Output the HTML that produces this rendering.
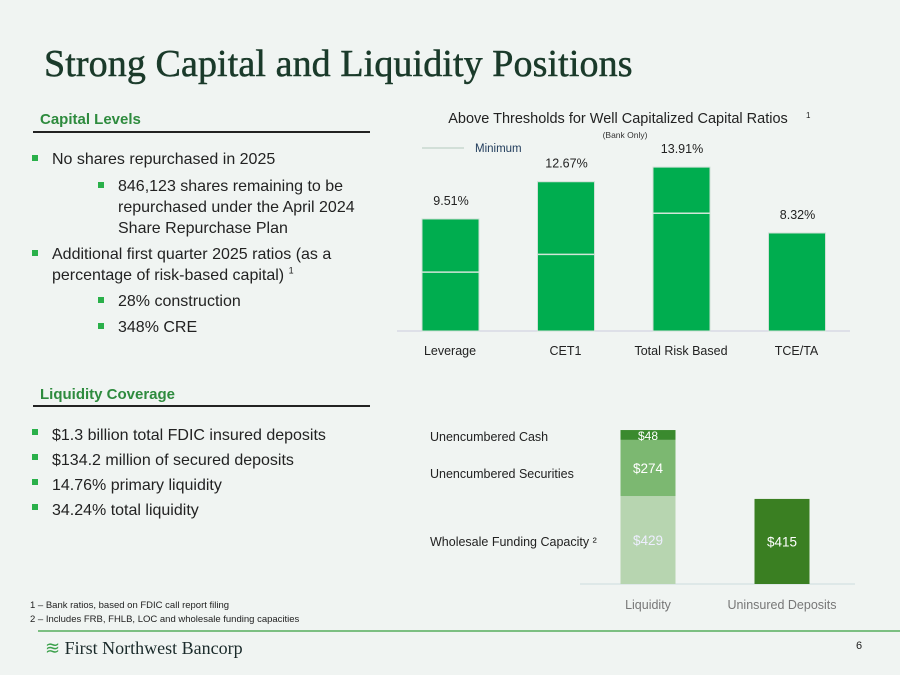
<!DOCTYPE html>
<html><head><meta charset="utf-8"><style>
body{margin:0;width:900px;height:675px;background:#f0f4f2;font-family:"Liberation Sans",sans-serif;position:relative;overflow:hidden;color:#222}
.a{position:absolute;white-space:nowrap}
.h{font-weight:bold;color:#2e8b3e;font-size:15px}
.rule{position:absolute;height:2px;background:#222}
ul{margin:0;padding:0;list-style:none}
.b{position:absolute;font-size:16px;line-height:21px}
.b li{position:relative;padding-left:22px}
.b li:before{content:"";position:absolute;left:2px;top:6px;width:6px;height:6px;background:#2ab04a}
.b li.s{padding-left:88px}
.b li.s:before{left:68px}
sup{line-height:0}
</style></head><body>
<div class="a" style="left:44px;top:42px;font-family:'Liberation Serif',serif;font-size:38px;color:#1a3a2a;-webkit-text-stroke:0.5px #1a3a2a;letter-spacing:0.1px">Strong Capital and Liquidity Positions</div>
<div class="a h" style="left:40px;top:111px">Capital Levels</div>
<div class="rule" style="left:33px;top:131px;width:337px"></div>
<ul class="b" style="left:30px;top:149px;width:345px">
<li style="margin-bottom:6px">No shares repurchased in 2025</li>
<li class="s" style="margin-bottom:5px">846,123 shares remaining to be repurchased under the April 2024 Share Repurchase Plan</li>
<li style="margin-bottom:5px">Additional first quarter 2025 ratios (as a percentage of risk-based capital) <sup style="font-size:9px">1</sup></li>
<li class="s" style="margin-bottom:5px">28% construction</li>
<li class="s">348% CRE</li>
</ul>
<div class="a h" style="left:40px;top:386px">Liquidity Coverage</div>
<div class="rule" style="left:33px;top:405px;width:337px"></div>
<ul class="b" style="left:30px;top:423px;line-height:25px">
<li>$1.3 billion total FDIC insured deposits</li>
<li>$134.2 million of secured deposits</li>
<li>14.76% primary liquidity</li>
<li>34.24% total liquidity</li>
</ul>
<div class="a" style="left:30px;top:599px;font-size:9.5px;line-height:14px">1 – Bank ratios, based on FDIC call report filing<br>2 – Includes FRB, FHLB, LOC and wholesale funding capacities</div>
<div class="a" style="left:38px;top:630px;width:862px;height:2px;background:#7cbf82"></div>
<div class="a" style="left:45px;top:638px;font-family:'Liberation Serif',serif;font-size:18px;color:#1a2a2a"><span style="color:#3aa04a;font-size:18px">≋</span> First Northwest Bancorp</div>
<div class="a" style="left:856px;top:640px;font-size:11px">6</div>
<svg id="c" width="900" height="675" style="position:absolute;left:0;top:0"></svg>
<script>
const capCats=["Leverage","CET1","Total Risk Based","TCE/TA"];
const capVals=[9.51,12.67,13.91,8.32];
const capMins=[5,6.5,10,null];
const capLabels=["9.51%","12.67%","13.91%","8.32%"];
const liqCats=["Liquidity","Uninsured Deposits"];
const liqWholesale=[429,0];
const liqSecurities=[274,0];
const liqCash=[48,0];
const liqUninsured=[0,415];
const NS="http://www.w3.org/2000/svg";
const svg=document.getElementById('c');
function mk(t,a,txt){const e=document.createElementNS(NS,t);for(const k in a)e.setAttribute(k,a[k]);if(txt!=null)e.textContent=txt;svg.appendChild(e);return e;}
const y1=v=>331-v*11.78;
const x1=i=>450+i*115.5;
let e=mk('text',{x:618,y:123,'font-size':14.5,'text-anchor':'middle',fill:'#222'},'Above Thresholds for Well Capitalized Capital Ratios');

e=mk('text',{x:806,y:118,'font-size':8,fill:'#222'},'1');

e=mk('text',{x:625,y:138,'font-size':8.5,'text-anchor':'middle',fill:'#333'},'(Bank Only)');

e=mk('line',{x1:422,x2:464,y1:148,y2:148,stroke:'#c8d8d0','stroke-width':1.5});

e=mk('text',{x:475,y:152,'font-size':11.5,fill:'#1f3a5a'},'Minimum');

e=mk('line',{x1:397,x2:850,y1:331,y2:331,stroke:'#ccd'});

capVals.forEach((v,i)=>{
 const x=x1(i)-28;
 let r=mk('rect',{x:x,y:y1(v),width:57,height:331-y1(v),fill:'#00ad4f',stroke:'#cfe0d6','stroke-width':1});
 
 
 if(capMins[i]!=null){let l=mk('line',{x1:x,x2:x+57,y1:y1(capMins[i]),y2:y1(capMins[i]),stroke:'#d0e6d8','stroke-width':1.5});
 
 }
 let t=mk('text',{x:x1(i)+1,y:y1(v)-14,'font-size':12.5,'text-anchor':'middle',fill:'#222'},capLabels[i]);
 
 
 let c=mk('text',{x:x1(i),y:355,'font-size':12.5,'text-anchor':'middle',fill:'#222'},capCats[i]);
 
 
});
const s2=0.205;const b2=584;
const x2=i=>648+i*134;
e=mk('line',{x1:580,x2:855,y1:584,y2:584,stroke:'#cdd'});

const segs=[[liqWholesale,'#b7d5b0','Wholesale Funding Capacity','#eef'],[liqSecurities,'#7cb871','Unencumbered Securities','#fff'],[liqCash,'#3a8a2e','Unencumbered Cash','#fff'],[liqUninsured,'#3a7f22','Uninsured Deposits','#fff']];
liqCats.forEach((c,i)=>{
 let base=b2;
 segs.forEach(s=>{const v=s[0][i];if(!v)return;const h=v*s2;
  let r=mk('rect',{x:x2(i)-27.5,y:base-h,width:55,height:h,fill:s[1]});
  
  
  let t=mk('text',{x:x2(i),y:base-h/2+5,'font-size':h<14?12:13.5,'text-anchor':'middle',fill:s[3]},'$'+v);
  
  
  base-=h;});
 let l=mk('text',{x:x2(i),y:609,'font-size':12.5,'text-anchor':'middle',fill:'#777'},c);
 
 
});
[['Unencumbered Cash',441],['Unencumbered Securities',478],['Wholesale Funding Capacity ²',546]].forEach(d=>{
 let t=mk('text',{x:430,y:d[1],'font-size':12.5,fill:'#222'},d[0]);
 
 
});
</script>
</body></html>
